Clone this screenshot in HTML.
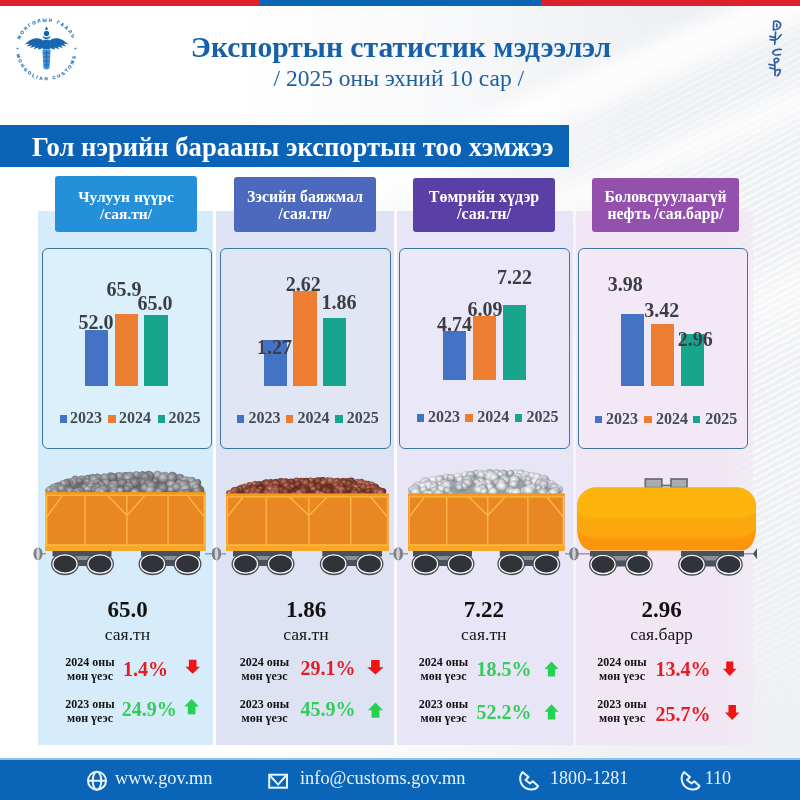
<!DOCTYPE html>
<html lang="mn">
<head>
<meta charset="utf-8">
<title>Экспортын статистик мэдээлэл</title>
<style>
html,body{margin:0;padding:0}
body{width:800px;height:800px;position:relative;overflow:hidden;font-family:"Liberation Serif","DejaVu Serif",serif;
background:
 linear-gradient(90deg, #fff 0%, #fff 30%, rgba(255,255,255,.6) 55%, rgba(255,255,255,0) 80%),
 linear-gradient(157deg, rgba(255,255,255,0) 27%, rgba(255,255,255,.85) 29%, rgba(255,255,255,.85) 30.500%, rgba(255,255,255,0) 33%, rgba(255,255,255,0) 36%, rgba(255,255,255,.7) 38.500%, rgba(255,255,255,0) 42%, rgba(255,255,255,0) 50%, rgba(255,255,255,.5) 55%, rgba(255,255,255,0) 62%),
 #eef0f3;}
.tex{position:absolute;left:440px;top:20px;width:360px;height:740px;background:repeating-linear-gradient(152deg,rgba(255,255,255,.6) 0,rgba(255,255,255,.6) 2.2px,rgba(255,255,255,0) 2.2px,rgba(255,255,255,0) 6px);-webkit-mask-image:radial-gradient(ellipse 100% 60% at 100% 42%,#000 0%,#000 30%,rgba(0,0,0,0) 100%);mask-image:radial-gradient(ellipse 100% 60% at 100% 42%,#000 0%,#000 30%,rgba(0,0,0,0) 100%)}
.t{position:absolute;line-height:1;white-space:nowrap;margin:0}
.abs{position:absolute}
.topbar{position:absolute;left:0;top:0;width:800px;height:5.5px;background:linear-gradient(90deg,#de1f2d 0,#de1f2d 260.3px,#0a65b4 260.3px,#0a65b4 540.5px,#de1f2d 540.5px)}
.band{position:absolute;left:0;top:125px;width:569px;height:42px;background:#0a63b6}
.col{position:absolute;top:211px;height:534px}
.lab{position:absolute;border-radius:3px;color:#fff;font-weight:bold;text-align:center;font-size:15.5px;line-height:16.8px}
.lab span{display:block;position:absolute;left:0;right:0;white-space:nowrap}
.chart{position:absolute;top:247.8px;height:201.4px;border:1.8px solid #3c76a3;border-radius:6px;box-sizing:border-box}
.footer{position:absolute;left:0;top:758px;width:800px;height:42px;background:#0a64b7;border-top:2px solid #8fc0ea;box-sizing:border-box}
svg{position:absolute;overflow:visible}
</style>
</head>
<body>

<div class="tex"></div>
<div class="topbar"></div>
<header>
<svg class="emblem" style="left:0;top:0" width="100" height="100" viewBox="0 0 100 100">
<defs><path id="arcT" d="M 18.1 50 A 28.4 28.4 0 0 1 74.9 50"/><path id="arcB" d="M 16.3 50 A 30.2 30.2 0 0 0 76.7 50"/></defs>
<g fill="#2573ba" font-family='"Liberation Sans",sans-serif' font-weight="bold" font-size="4.5" stroke="#2573ba" stroke-width="0.15">
<text letter-spacing="1.75"><textPath href="#arcT" startOffset="50%" text-anchor="middle">МОНГОЛЫН ГААЛЬ</textPath></text>
<text letter-spacing="2.0"><textPath href="#arcB" startOffset="50%" text-anchor="middle">MONGOLIAN CUSTOMS</textPath></text>
<circle cx="17.5" cy="48.5" r="0.8"/><circle cx="75.5" cy="48.5" r="0.8"/>
</g>
<g fill="#1766b2">
<path d="M46.5 26.2 l1.7 3.6 h-3.4z"/>
<circle cx="46.5" cy="33.5" r="2.7"/>
<path d="M42.4 35.8 q4.100 3.600 8.200 0 q-1 3.400 -4.100 3.400 q-3.100 0 -4.100 -3.400z"/>
<path d="M44.6 42 C41 37.200 33 35.800 24.600 44.600 L29.400 43.600 L26.800 46.600 L32 45.200 L30 48 L35.200 46.600 L33.800 49.200 L38.600 47.600 L38 49.800 L42.400 48.200 L44.600 46z"/>
<path d="M48.400 42 C52 37.200 60 35.800 68.400 44.600 L63.600 43.600 L66.200 46.600 L61 45.200 L63 48 L57.800 46.600 L59.200 49.200 L54.400 47.600 L55 49.800 L50.600 48.200 L48.400 46z"/>
<path d="M43.400 39.800 h6.200 l0.600 9.400 h-7.400z"/>
<path d="M42.400 49.500 h8.200 l-1.100 18.700 q-3 2.800 -6 0z" fill="#4a93d6"/>
<path d="M43 53 h7 M43.200 57 h6.600 M43.400 61 h6.200 M43.600 65 h5.800 M46.500 50 v18" stroke="#1766b2" stroke-width="0.9" fill="none"/>
</g>
</svg>
<div class="t" style="top:32.81px;font-size:29.6px;color:#1760aa;font-weight:bold;left:101.00px;width:600px;text-align:center;">Экспортын статистик мэдээлэл</div>
<div class="t" style="top:66.92px;font-size:23.5px;color:#1d5fa3;left:148.80px;width:500px;text-align:center;">/ 2025 оны эхний 10 сар /</div>
<svg class="script" style="left:760px;top:14px" width="30" height="70" viewBox="760 14 30 70"><g fill="none" stroke="#2b5fa4" stroke-width="1.7" stroke-linecap="round" stroke-linejoin="round">
<path d="M773.800 21.600 L773.400 30 M773.800 21.600 C778 20.300 781.200 22.800 780.500 25.600 C780 28.200 777 29.700 773.400 30 M776.800 24 v2.800"/>
<path d="M775.600 32 L774.700 44.300 M774.700 40.400 Q778.600 38.600 781.200 34.600 M769.900 36.400 L773.900 37.300 M770.300 39.600 L774.200 40.200"/>
<path d="M781.200 49.500 Q775.100 48.900 772.600 52.200 Q772.900 56.200 780.400 54.500"/>
<path d="M774.700 62.200 C772.300 58.700 777.700 56.800 778.700 59.600 C778.900 61.800 776 62.800 774.700 62.200 L775.100 75.400 M769 64.400 L774.500 65.500 M769.900 67.900 L774.600 69 M775 71.100 Q778.600 68.700 780.400 70.100 Q780.200 73.400 777.300 75.900"/>
</g></svg>
</header>
<div class="band"></div>
<div class="t" style="top:133.92px;font-size:26.6px;color:#fff;font-weight:bold;left:32.00px;">Гол нэрийн барааны экспортын тоо хэмжээ</div>
<div class="col" style="left:37.5px;width:175.5px;background:#d6ecfa;"></div>
<div class="col" style="left:216px;width:178px;background:#dde3f2;"></div>
<div class="col" style="left:397px;width:176px;background:#e8e6f6;"></div>
<div class="col" style="left:576px;width:177px;background:#f1e6f4;background:linear-gradient(90deg,#f1e6f4 0,#f1e6f4 80%,rgba(241,230,244,.55) 100%);"></div>
<div class="lab" style="left:55px;width:142px;top:176.3px;height:55.5px;font-size:15.5px;background:#2490d9"><span style="top:12.9px">Чулуун нүүрс</span><span style="top:29.7px">/сая.тн/</span></div>
<div class="chart" style="left:41.5px;width:170.5px;background:#dcf0fb"></div>
<div class="lab" style="left:234px;width:142px;top:177.4px;height:54.4px;font-size:15.7px;background:#4c69bd"><span style="top:11.7px">Зэсийн баяжмал</span><span style="top:28.5px">/сая.тн/</span></div>
<div class="chart" style="left:220.3px;width:170.5px;background:#e0e6f4"></div>
<div class="lab" style="left:413px;width:142px;top:178.2px;height:53.6px;font-size:16.0px;background:#5a40a6"><span style="top:10.7px">Төмрийн хүдэр</span><span style="top:27.5px">/сая.тн/</span></div>
<div class="chart" style="left:399.3px;width:170.49999999999994px;background:#eae8f7"></div>
<div class="lab" style="left:592px;width:147px;top:178px;height:53.8px;font-size:15.7px;background:#9351ad"><span style="top:11.1px">Боловсруулаагүй</span><span style="top:27.9px">нефть /сая.барр/</span></div>
<div class="chart" style="left:577.8px;width:170.20000000000005px;background:#f3e9f6"></div>
<div class="bars">
<div class="abs" style="left:85px;top:329.5px;width:23px;height:56.25px;background:#4472c4"></div>
<div class="abs" style="left:115px;top:313.75px;width:23px;height:72.0px;background:#ed7d31"></div>
<div class="abs" style="left:144px;top:315px;width:24px;height:70.75px;background:#17a68d"></div>
<div class="t" style="top:311.65px;font-size:20px;color:#3b3f45;font-weight:bold;left:56.00px;width:80px;text-align:center;">52.0</div>
<div class="t" style="top:278.65px;font-size:20px;color:#3b3f45;font-weight:bold;left:84.00px;width:80px;text-align:center;">65.9</div>
<div class="t" style="top:292.90px;font-size:20px;color:#3b3f45;font-weight:bold;left:115.00px;width:80px;text-align:center;">65.0</div>
<div class="abs" style="left:59.5px;top:415px;width:7.5px;height:7.5px;background:#4472c4"></div>
<div class="t" style="top:409.90px;font-size:16px;color:#454a50;font-weight:bold;left:70.00px;">2023</div>
<div class="abs" style="left:108px;top:415px;width:7.5px;height:7.5px;background:#ed7d31"></div>
<div class="t" style="top:409.90px;font-size:16px;color:#454a50;font-weight:bold;left:119.00px;">2024</div>
<div class="abs" style="left:157.5px;top:415px;width:7.5px;height:7.5px;background:#17a68d"></div>
<div class="t" style="top:409.90px;font-size:16px;color:#454a50;font-weight:bold;left:168.50px;">2025</div>
</div>
<div class="bars">
<div class="abs" style="left:264.25px;top:339.5px;width:22.5px;height:46.25px;background:#4472c4"></div>
<div class="abs" style="left:293px;top:291.25px;width:23.75px;height:94.5px;background:#ed7d31"></div>
<div class="abs" style="left:323px;top:318px;width:23px;height:67.75px;background:#17a68d"></div>
<div class="t" style="top:336.65px;font-size:20px;color:#3b3f45;font-weight:bold;left:234.60px;width:80px;text-align:center;">1.27</div>
<div class="t" style="top:274.15px;font-size:20px;color:#3b3f45;font-weight:bold;left:263.25px;width:80px;text-align:center;">2.62</div>
<div class="t" style="top:292.15px;font-size:20px;color:#3b3f45;font-weight:bold;left:298.90px;width:80px;text-align:center;">1.86</div>
<div class="abs" style="left:236.75px;top:415.25px;width:7.5px;height:7.5px;background:#4472c4"></div>
<div class="t" style="top:410.15px;font-size:16px;color:#454a50;font-weight:bold;left:248.50px;">2023</div>
<div class="abs" style="left:285.5px;top:415.25px;width:7.5px;height:7.5px;background:#ed7d31"></div>
<div class="t" style="top:410.15px;font-size:16px;color:#454a50;font-weight:bold;left:297.50px;">2024</div>
<div class="abs" style="left:335px;top:415.25px;width:7.5px;height:7.5px;background:#17a68d"></div>
<div class="t" style="top:410.15px;font-size:16px;color:#454a50;font-weight:bold;left:346.75px;">2025</div>
</div>
<div class="bars">
<div class="abs" style="left:443px;top:330.5px;width:23px;height:49.5px;background:#4472c4"></div>
<div class="abs" style="left:473px;top:316.25px;width:23px;height:63.75px;background:#ed7d31"></div>
<div class="abs" style="left:503px;top:305px;width:23px;height:75px;background:#17a68d"></div>
<div class="t" style="top:314.15px;font-size:20px;color:#3b3f45;font-weight:bold;left:414.50px;width:80px;text-align:center;">4.74</div>
<div class="t" style="top:298.65px;font-size:20px;color:#3b3f45;font-weight:bold;left:445.10px;width:80px;text-align:center;">6.09</div>
<div class="t" style="top:267.15px;font-size:20px;color:#3b3f45;font-weight:bold;left:474.40px;width:80px;text-align:center;">7.22</div>
<div class="abs" style="left:416.5px;top:414px;width:7.5px;height:7.5px;background:#4472c4"></div>
<div class="t" style="top:408.90px;font-size:16px;color:#454a50;font-weight:bold;left:428.00px;">2023</div>
<div class="abs" style="left:465.25px;top:414px;width:7.5px;height:7.5px;background:#ed7d31"></div>
<div class="t" style="top:408.90px;font-size:16px;color:#454a50;font-weight:bold;left:477.25px;">2024</div>
<div class="abs" style="left:514.75px;top:414px;width:7.5px;height:7.5px;background:#17a68d"></div>
<div class="t" style="top:408.90px;font-size:16px;color:#454a50;font-weight:bold;left:526.50px;">2025</div>
</div>
<div class="bars">
<div class="abs" style="left:621px;top:313.75px;width:23px;height:72.0px;background:#4472c4"></div>
<div class="abs" style="left:651px;top:323.75px;width:23px;height:62.0px;background:#ed7d31"></div>
<div class="abs" style="left:681px;top:333.75px;width:23px;height:52.0px;background:#17a68d"></div>
<div class="t" style="top:273.65px;font-size:20px;color:#3b3f45;font-weight:bold;left:585.25px;width:80px;text-align:center;">3.98</div>
<div class="t" style="top:299.65px;font-size:20px;color:#3b3f45;font-weight:bold;left:621.75px;width:80px;text-align:center;">3.42</div>
<div class="t" style="top:329.15px;font-size:20px;color:#3b3f45;font-weight:bold;left:655.25px;width:80px;text-align:center;">2.96</div>
<div class="abs" style="left:594.5px;top:415.75px;width:7.5px;height:7.5px;background:#4472c4"></div>
<div class="t" style="top:410.65px;font-size:16px;color:#454a50;font-weight:bold;left:606.00px;">2023</div>
<div class="abs" style="left:644px;top:415.75px;width:7.5px;height:7.5px;background:#ed7d31"></div>
<div class="t" style="top:410.65px;font-size:16px;color:#454a50;font-weight:bold;left:656.00px;">2024</div>
<div class="abs" style="left:692.75px;top:415.75px;width:7.5px;height:7.5px;background:#17a68d"></div>
<div class="t" style="top:410.65px;font-size:16px;color:#454a50;font-weight:bold;left:705.25px;">2025</div>
</div>
<svg class="train" style="left:0;top:0" width="800" height="800" viewBox="0 0 800 800">
<defs><radialGradient id="gc0" cx="45%" cy="40%" r="62%"><stop offset="0" stop-color="#bcbdc0"/><stop offset=".55" stop-color="#8b8c8f"/><stop offset="1" stop-color="#5e5f62"/></radialGradient><radialGradient id="gc1" cx="45%" cy="40%" r="62%"><stop offset="0" stop-color="#a8a9ac"/><stop offset=".55" stop-color="#7a7b7e"/><stop offset="1" stop-color="#525356"/></radialGradient><radialGradient id="gc2" cx="45%" cy="40%" r="62%"><stop offset="0" stop-color="#cacbce"/><stop offset=".55" stop-color="#96979a"/><stop offset="1" stop-color="#666769"/></radialGradient><radialGradient id="gk0" cx="45%" cy="40%" r="62%"><stop offset="0" stop-color="#bf7a68"/><stop offset=".55" stop-color="#8d4838"/><stop offset="1" stop-color="#55261c"/></radialGradient><radialGradient id="gk1" cx="45%" cy="40%" r="62%"><stop offset="0" stop-color="#a9604f"/><stop offset=".55" stop-color="#7a3b2d"/><stop offset="1" stop-color="#4a1f17"/></radialGradient><radialGradient id="gk2" cx="45%" cy="40%" r="62%"><stop offset="0" stop-color="#cf8c7a"/><stop offset=".55" stop-color="#9c5544"/><stop offset="1" stop-color="#63301f"/></radialGradient><radialGradient id="gs0" cx="45%" cy="40%" r="62%"><stop offset="0" stop-color="#ffffff"/><stop offset=".55" stop-color="#c3c7cc"/><stop offset="1" stop-color="#7e848c"/></radialGradient><radialGradient id="gs1" cx="45%" cy="40%" r="62%"><stop offset="0" stop-color="#f4f5f7"/><stop offset=".55" stop-color="#b1b5bb"/><stop offset="1" stop-color="#727880"/></radialGradient><radialGradient id="gs2" cx="45%" cy="40%" r="62%"><stop offset="0" stop-color="#ffffff"/><stop offset=".55" stop-color="#d2d5d9"/><stop offset="1" stop-color="#8d9299"/></radialGradient></defs>
<line x1="38" y1="553.8" x2="46" y2="553.8" stroke="#9aa0a8" stroke-width="1.6"/><ellipse cx="38" cy="553.8" rx="4.6" ry="6.4" fill="#7b8087"/><ellipse cx="38" cy="553.8" rx="1.8" ry="6.2" fill="#cfd2d6"/>
<line x1="216.5" y1="553.8" x2="205" y2="553.8" stroke="#9aa0a8" stroke-width="1.6"/><ellipse cx="216.5" cy="553.8" rx="4.6" ry="6.4" fill="#7b8087"/><ellipse cx="216.5" cy="553.8" rx="1.8" ry="6.2" fill="#cfd2d6"/>
<line x1="216.5" y1="553.8" x2="226" y2="553.8" stroke="#9aa0a8" stroke-width="1.6"/><ellipse cx="216.5" cy="553.8" rx="4.6" ry="6.4" fill="#7b8087"/><ellipse cx="216.5" cy="553.8" rx="1.8" ry="6.2" fill="#cfd2d6"/>
<line x1="398.5" y1="553.8" x2="389" y2="553.8" stroke="#9aa0a8" stroke-width="1.6"/><ellipse cx="398.5" cy="553.8" rx="4.6" ry="6.4" fill="#7b8087"/><ellipse cx="398.5" cy="553.8" rx="1.8" ry="6.2" fill="#cfd2d6"/>
<line x1="398" y1="553.8" x2="408" y2="553.8" stroke="#9aa0a8" stroke-width="1.6"/><ellipse cx="398" cy="553.8" rx="4.6" ry="6.4" fill="#7b8087"/><ellipse cx="398" cy="553.8" rx="1.8" ry="6.2" fill="#cfd2d6"/>
<line x1="574" y1="553.8" x2="565" y2="553.8" stroke="#9aa0a8" stroke-width="1.6"/><ellipse cx="574" cy="553.8" rx="4.6" ry="6.4" fill="#7b8087"/><ellipse cx="574" cy="553.8" rx="1.8" ry="6.2" fill="#cfd2d6"/>
<line x1="574" y1="553.8" x2="590" y2="553.8" stroke="#9aa0a8" stroke-width="1.6"/><ellipse cx="574" cy="553.8" rx="4.6" ry="6.4" fill="#7b8087"/><ellipse cx="574" cy="553.8" rx="1.8" ry="6.2" fill="#cfd2d6"/>
<line x1="744" y1="553.8" x2="754" y2="553.8" stroke="#9aa0a8" stroke-width="1.6"/><path d="M753 553.8 l4 -5.500 v11z" fill="#4b515a"/>
<path d="M46.5 494 L46.5 494.0 L50.0 488.0 L62.5 483.0 L75.0 478.5 L107.5 475.5 L150.0 473.5 L175.0 475.5 L197.5 481.8 L204.0 488.0 L205.0 495.0 L205 494Z" fill="#6b6c6f"/><ellipse cx="136.6" cy="474.8" rx="4.1" ry="3.5" fill="url(#gc0)" transform="rotate(6 136.6 474.8)"/><ellipse cx="157.6" cy="475.1" rx="4.8" ry="4.3" fill="url(#gc2)" transform="rotate(3 157.6 475.1)"/><ellipse cx="142.4" cy="475.3" rx="3.6" ry="3.1" fill="url(#gc2)" transform="rotate(11 142.4 475.3)"/><ellipse cx="142.4" cy="475.4" rx="4.6" ry="4.3" fill="url(#gc1)" transform="rotate(-21 142.4 475.4)"/><ellipse cx="130.2" cy="475.5" rx="4.7" ry="3.7" fill="url(#gc0)" transform="rotate(17 130.2 475.5)"/><ellipse cx="125.3" cy="475.6" rx="3.7" ry="3.5" fill="url(#gc1)" transform="rotate(3 125.3 475.6)"/><ellipse cx="149.0" cy="475.7" rx="5.4" ry="4.8" fill="url(#gc1)" transform="rotate(24 149.0 475.7)"/><ellipse cx="128.9" cy="476.2" rx="4.5" ry="3.6" fill="url(#gc0)" transform="rotate(18 128.9 476.2)"/><ellipse cx="119.1" cy="476.3" rx="5.3" ry="4.3" fill="url(#gc0)" transform="rotate(2 119.1 476.3)"/><ellipse cx="172.6" cy="476.5" rx="4.9" ry="4.6" fill="url(#gc1)" transform="rotate(24 172.6 476.5)"/><ellipse cx="143.2" cy="476.6" rx="4.7" ry="4.1" fill="url(#gc2)" transform="rotate(19 143.2 476.6)"/><ellipse cx="111.1" cy="476.9" rx="5.1" ry="4.6" fill="url(#gc1)" transform="rotate(24 111.1 476.9)"/><ellipse cx="145.1" cy="476.9" rx="5.3" ry="4.6" fill="url(#gc1)" transform="rotate(7 145.1 476.9)"/><ellipse cx="165.0" cy="477.0" rx="5.5" ry="5.2" fill="url(#gc2)" transform="rotate(26 165.0 477.0)"/><ellipse cx="92.0" cy="477.1" rx="3.9" ry="3.3" fill="url(#gc0)" transform="rotate(-13 92.0 477.1)"/><ellipse cx="113.0" cy="477.2" rx="4.6" ry="4.2" fill="url(#gc1)" transform="rotate(-18 113.0 477.2)"/><ellipse cx="171.8" cy="477.5" rx="5.2" ry="4.5" fill="url(#gc0)" transform="rotate(-15 171.8 477.5)"/><ellipse cx="98.1" cy="477.6" rx="4.3" ry="3.7" fill="url(#gc1)" transform="rotate(25 98.1 477.6)"/><ellipse cx="104.7" cy="477.6" rx="4.9" ry="4.2" fill="url(#gc0)" transform="rotate(14 104.7 477.6)"/><ellipse cx="87.4" cy="477.8" rx="3.4" ry="3.0" fill="url(#gc1)" transform="rotate(-17 87.4 477.8)"/><ellipse cx="180.1" cy="477.9" rx="4.6" ry="4.0" fill="url(#gc1)" transform="rotate(27 180.1 477.9)"/><ellipse cx="163.2" cy="478.0" rx="5.4" ry="4.8" fill="url(#gc2)" transform="rotate(0 163.2 478.0)"/><ellipse cx="127.5" cy="478.3" rx="4.9" ry="3.9" fill="url(#gc2)" transform="rotate(30 127.5 478.3)"/><ellipse cx="75.5" cy="478.9" rx="3.6" ry="3.3" fill="url(#gc1)" transform="rotate(26 75.5 478.9)"/><ellipse cx="81.0" cy="479.3" rx="4.5" ry="3.8" fill="url(#gc0)" transform="rotate(-16 81.0 479.3)"/><ellipse cx="93.7" cy="479.6" rx="5.1" ry="4.6" fill="url(#gc0)" transform="rotate(19 93.7 479.6)"/><ellipse cx="185.3" cy="480.6" rx="5.2" ry="4.2" fill="url(#gc2)" transform="rotate(-17 185.3 480.6)"/><ellipse cx="155.6" cy="480.7" rx="3.4" ry="2.8" fill="url(#gc1)" transform="rotate(-18 155.6 480.7)"/><ellipse cx="79.3" cy="480.9" rx="4.0" ry="3.2" fill="url(#gc1)" transform="rotate(9 79.3 480.9)"/><ellipse cx="191.3" cy="481.6" rx="5.1" ry="4.6" fill="url(#gc2)" transform="rotate(-28 191.3 481.6)"/><ellipse cx="128.6" cy="481.7" rx="3.9" ry="3.1" fill="url(#gc1)" transform="rotate(-28 128.6 481.7)"/><ellipse cx="139.7" cy="481.9" rx="4.0" ry="3.2" fill="url(#gc1)" transform="rotate(-25 139.7 481.9)"/><ellipse cx="147.9" cy="482.0" rx="4.6" ry="4.2" fill="url(#gc2)" transform="rotate(-23 147.9 482.0)"/><ellipse cx="86.9" cy="482.0" rx="3.6" ry="3.0" fill="url(#gc0)" transform="rotate(28 86.9 482.0)"/><ellipse cx="147.1" cy="482.1" rx="5.1" ry="4.0" fill="url(#gc1)" transform="rotate(-2 147.1 482.1)"/><ellipse cx="72.1" cy="482.2" rx="5.1" ry="4.6" fill="url(#gc2)" transform="rotate(-9 72.1 482.2)"/><ellipse cx="68.1" cy="482.6" rx="5.2" ry="4.1" fill="url(#gc0)" transform="rotate(-9 68.1 482.6)"/><ellipse cx="197.3" cy="482.6" rx="3.9" ry="3.3" fill="url(#gc1)" transform="rotate(-26 197.3 482.6)"/><ellipse cx="105.8" cy="482.8" rx="4.2" ry="3.7" fill="url(#gc0)" transform="rotate(17 105.8 482.8)"/><ellipse cx="141.5" cy="482.8" rx="5.1" ry="4.3" fill="url(#gc1)" transform="rotate(4 141.5 482.8)"/><ellipse cx="122.3" cy="482.9" rx="5.1" ry="4.1" fill="url(#gc1)" transform="rotate(-13 122.3 482.9)"/><ellipse cx="179.3" cy="482.9" rx="3.6" ry="3.2" fill="url(#gc0)" transform="rotate(-23 179.3 482.9)"/><ellipse cx="134.1" cy="482.9" rx="4.9" ry="4.6" fill="url(#gc1)" transform="rotate(28 134.1 482.9)"/><ellipse cx="143.2" cy="483.0" rx="5.0" ry="4.0" fill="url(#gc1)" transform="rotate(30 143.2 483.0)"/><ellipse cx="98.0" cy="483.2" rx="4.0" ry="3.3" fill="url(#gc2)" transform="rotate(19 98.0 483.2)"/><ellipse cx="66.0" cy="483.4" rx="4.6" ry="4.2" fill="url(#gc1)" transform="rotate(-12 66.0 483.4)"/><ellipse cx="63.1" cy="483.8" rx="3.8" ry="3.4" fill="url(#gc2)" transform="rotate(11 63.1 483.8)"/><ellipse cx="148.4" cy="484.1" rx="5.3" ry="4.2" fill="url(#gc1)" transform="rotate(30 148.4 484.1)"/><ellipse cx="185.6" cy="484.1" rx="5.1" ry="4.6" fill="url(#gc1)" transform="rotate(4 185.6 484.1)"/><ellipse cx="171.1" cy="484.3" rx="4.7" ry="3.8" fill="url(#gc2)" transform="rotate(1 171.1 484.3)"/><ellipse cx="91.3" cy="484.7" rx="4.0" ry="3.4" fill="url(#gc2)" transform="rotate(15 91.3 484.7)"/><ellipse cx="59.1" cy="484.8" rx="3.2" ry="2.9" fill="url(#gc1)" transform="rotate(6 59.1 484.8)"/><ellipse cx="113.4" cy="484.8" rx="3.4" ry="2.8" fill="url(#gc2)" transform="rotate(11 113.4 484.8)"/><ellipse cx="113.8" cy="484.9" rx="4.9" ry="4.3" fill="url(#gc2)" transform="rotate(-19 113.8 484.9)"/><ellipse cx="86.4" cy="485.0" rx="3.6" ry="3.4" fill="url(#gc1)" transform="rotate(11 86.4 485.0)"/><ellipse cx="100.7" cy="485.2" rx="5.2" ry="4.2" fill="url(#gc1)" transform="rotate(29 100.7 485.2)"/><ellipse cx="182.9" cy="485.3" rx="5.4" ry="4.4" fill="url(#gc2)" transform="rotate(-9 182.9 485.3)"/><ellipse cx="193.5" cy="485.5" rx="5.4" ry="4.9" fill="url(#gc2)" transform="rotate(8 193.5 485.5)"/><ellipse cx="179.1" cy="485.6" rx="3.4" ry="3.0" fill="url(#gc1)" transform="rotate(11 179.1 485.6)"/><ellipse cx="151.0" cy="485.9" rx="5.0" ry="4.3" fill="url(#gc0)" transform="rotate(-11 151.0 485.9)"/><ellipse cx="185.4" cy="486.2" rx="4.1" ry="3.7" fill="url(#gc0)" transform="rotate(-24 185.4 486.2)"/><ellipse cx="182.9" cy="486.2" rx="5.6" ry="4.5" fill="url(#gc2)" transform="rotate(5 182.9 486.2)"/><ellipse cx="91.3" cy="486.4" rx="3.8" ry="3.4" fill="url(#gc2)" transform="rotate(-5 91.3 486.4)"/><ellipse cx="84.4" cy="486.5" rx="3.5" ry="2.8" fill="url(#gc1)" transform="rotate(-13 84.4 486.5)"/><ellipse cx="95.6" cy="486.6" rx="4.8" ry="3.8" fill="url(#gc1)" transform="rotate(-22 95.6 486.6)"/><ellipse cx="128.8" cy="486.8" rx="4.7" ry="4.1" fill="url(#gc0)" transform="rotate(-13 128.8 486.8)"/><ellipse cx="97.1" cy="487.1" rx="3.4" ry="3.0" fill="url(#gc0)" transform="rotate(2 97.1 487.1)"/><ellipse cx="57.2" cy="487.1" rx="4.7" ry="4.3" fill="url(#gc1)" transform="rotate(30 57.2 487.1)"/><ellipse cx="97.6" cy="487.3" rx="4.1" ry="3.5" fill="url(#gc1)" transform="rotate(21 97.6 487.3)"/><ellipse cx="84.7" cy="487.4" rx="3.4" ry="2.8" fill="url(#gc0)" transform="rotate(24 84.7 487.4)"/><ellipse cx="176.3" cy="487.4" rx="5.5" ry="4.4" fill="url(#gc0)" transform="rotate(7 176.3 487.4)"/><ellipse cx="62.5" cy="487.5" rx="3.6" ry="3.3" fill="url(#gc0)" transform="rotate(6 62.5 487.5)"/><ellipse cx="195.5" cy="487.5" rx="3.8" ry="3.0" fill="url(#gc2)" transform="rotate(14 195.5 487.5)"/><ellipse cx="112.8" cy="487.7" rx="5.5" ry="4.8" fill="url(#gc0)" transform="rotate(12 112.8 487.7)"/><ellipse cx="53.8" cy="487.8" rx="4.6" ry="3.9" fill="url(#gc2)" transform="rotate(17 53.8 487.8)"/><ellipse cx="144.9" cy="487.9" rx="4.3" ry="3.8" fill="url(#gc0)" transform="rotate(-21 144.9 487.9)"/><ellipse cx="162.7" cy="488.2" rx="5.2" ry="4.8" fill="url(#gc1)" transform="rotate(4 162.7 488.2)"/><ellipse cx="185.4" cy="488.4" rx="5.4" ry="4.3" fill="url(#gc2)" transform="rotate(-19 185.4 488.4)"/><ellipse cx="61.3" cy="488.7" rx="4.2" ry="3.9" fill="url(#gc0)" transform="rotate(-7 61.3 488.7)"/><ellipse cx="50.8" cy="488.8" rx="3.3" ry="2.6" fill="url(#gc1)" transform="rotate(21 50.8 488.8)"/><ellipse cx="126.8" cy="488.9" rx="4.2" ry="3.9" fill="url(#gc1)" transform="rotate(30 126.8 488.9)"/><ellipse cx="106.5" cy="488.9" rx="4.4" ry="3.7" fill="url(#gc1)" transform="rotate(27 106.5 488.9)"/><ellipse cx="87.4" cy="489.4" rx="4.5" ry="3.7" fill="url(#gc2)" transform="rotate(1 87.4 489.4)"/><ellipse cx="55.2" cy="489.6" rx="3.7" ry="3.3" fill="url(#gc2)" transform="rotate(-11 55.2 489.6)"/><ellipse cx="170.7" cy="489.7" rx="3.3" ry="2.8" fill="url(#gc2)" transform="rotate(8 170.7 489.7)"/><ellipse cx="103.6" cy="489.7" rx="4.9" ry="4.4" fill="url(#gc0)" transform="rotate(-30 103.6 489.7)"/><ellipse cx="52.5" cy="489.9" rx="5.0" ry="4.5" fill="url(#gc0)" transform="rotate(12 52.5 489.9)"/><ellipse cx="114.2" cy="490.1" rx="4.3" ry="3.7" fill="url(#gc0)" transform="rotate(3 114.2 490.1)"/><ellipse cx="150.2" cy="490.2" rx="5.3" ry="4.6" fill="url(#gc2)" transform="rotate(-18 150.2 490.2)"/><ellipse cx="49.0" cy="490.3" rx="3.8" ry="3.1" fill="url(#gc2)" transform="rotate(22 49.0 490.3)"/><ellipse cx="95.7" cy="490.3" rx="4.1" ry="3.8" fill="url(#gc2)" transform="rotate(30 95.7 490.3)"/><ellipse cx="68.8" cy="490.4" rx="5.2" ry="4.2" fill="url(#gc1)" transform="rotate(-12 68.8 490.4)"/><ellipse cx="120.4" cy="490.5" rx="3.5" ry="3.3" fill="url(#gc2)" transform="rotate(-22 120.4 490.5)"/><ellipse cx="97.2" cy="490.7" rx="3.7" ry="3.4" fill="url(#gc1)" transform="rotate(9 97.2 490.7)"/><ellipse cx="78.1" cy="491.1" rx="3.9" ry="3.0" fill="url(#gc0)" transform="rotate(9 78.1 491.1)"/><ellipse cx="196.9" cy="491.2" rx="4.2" ry="3.6" fill="url(#gc0)" transform="rotate(1 196.9 491.2)"/><ellipse cx="99.3" cy="491.2" rx="4.6" ry="3.6" fill="url(#gc2)" transform="rotate(-9 99.3 491.2)"/><ellipse cx="80.2" cy="491.3" rx="4.5" ry="3.7" fill="url(#gc1)" transform="rotate(-8 80.2 491.3)"/><ellipse cx="70.0" cy="491.4" rx="3.9" ry="3.5" fill="url(#gc2)" transform="rotate(-25 70.0 491.4)"/><ellipse cx="77.5" cy="491.5" rx="3.3" ry="3.0" fill="url(#gc2)" transform="rotate(-28 77.5 491.5)"/><ellipse cx="101.9" cy="491.6" rx="3.8" ry="3.0" fill="url(#gc2)" transform="rotate(-9 101.9 491.6)"/><ellipse cx="53.8" cy="491.7" rx="3.3" ry="3.1" fill="url(#gc0)" transform="rotate(25 53.8 491.7)"/><ellipse cx="158.6" cy="491.8" rx="4.0" ry="3.4" fill="url(#gc0)" transform="rotate(18 158.6 491.8)"/><ellipse cx="79.2" cy="491.8" rx="5.1" ry="4.4" fill="url(#gc0)" transform="rotate(-24 79.2 491.8)"/><ellipse cx="54.6" cy="492.3" rx="4.6" ry="3.9" fill="url(#gc0)" transform="rotate(24 54.6 492.3)"/><ellipse cx="113.7" cy="492.6" rx="4.2" ry="3.8" fill="url(#gc0)" transform="rotate(-5 113.7 492.6)"/><ellipse cx="64.3" cy="492.7" rx="3.4" ry="3.0" fill="url(#gc1)" transform="rotate(-26 64.3 492.7)"/><ellipse cx="134.7" cy="492.9" rx="4.7" ry="4.3" fill="url(#gc2)" transform="rotate(-17 134.7 492.9)"/><ellipse cx="76.3" cy="492.9" rx="5.1" ry="4.4" fill="url(#gc2)" transform="rotate(-29 76.3 492.9)"/><ellipse cx="186.5" cy="493.0" rx="4.9" ry="4.2" fill="url(#gc1)" transform="rotate(14 186.5 493.0)"/><ellipse cx="74.0" cy="493.2" rx="3.2" ry="2.7" fill="url(#gc1)" transform="rotate(-1 74.0 493.2)"/><ellipse cx="181.1" cy="493.3" rx="4.0" ry="3.6" fill="url(#gc0)" transform="rotate(-7 181.1 493.3)"/><ellipse cx="86.3" cy="493.7" rx="3.9" ry="3.4" fill="url(#gc1)" transform="rotate(-7 86.3 493.7)"/><ellipse cx="69.3" cy="493.7" rx="3.4" ry="2.9" fill="url(#gc2)" transform="rotate(-30 69.3 493.7)"/><ellipse cx="198.1" cy="494.0" rx="4.4" ry="3.6" fill="url(#gc0)" transform="rotate(-7 198.1 494.0)"/><rect x="45.5" y="492.2" width="160.0" height="58.5" fill="#e98822"/><rect x="45.5" y="492.2" width="160.0" height="3.2" fill="#f59a1c"/><rect x="45.5" y="545" width="160.0" height="5.7" fill="#f8a722"/><path d="M46.7 495.4 V545 M204.3 495.4 V545 M45.5 495.4 H205.5 M45.5 545 H205.5 M85.0 495.4 V545 M126.9 495.4 V545 M168.1 495.4 V545 M62.5 495.4 L46.7 517 M187.4 495.4 L204.3 517 M107.6 495.4 L126.9 515.5 L145.0 495.4 " fill="none" stroke="#fcb940" stroke-width="1.35"/><rect x="52.5" y="551" width="59.0" height="5.5" fill="#4b515a"/><path d="M65 556 H100 V566 H65Z" fill="#4b515a"/><path d="M54.5 556 L59 560 H106 L109.5 556Z" fill="#8a9099"/><ellipse cx="65" cy="564" rx="13.3" ry="10.5" fill="#fff" stroke="#474c53" stroke-width="1.3"/><ellipse cx="65" cy="564" rx="11.4" ry="8.5" fill="#303338"/><ellipse cx="100" cy="564" rx="13.3" ry="10.5" fill="#fff" stroke="#474c53" stroke-width="1.3"/><ellipse cx="100" cy="564" rx="11.4" ry="8.5" fill="#303338"/><rect x="141.0" y="551" width="59.0" height="5.5" fill="#4b515a"/><path d="M152.5 556 H187.5 V566 H152.5Z" fill="#4b515a"/><path d="M143.0 556 L146.5 560 H193.5 L198.0 556Z" fill="#8a9099"/><ellipse cx="152.5" cy="564" rx="13.3" ry="10.5" fill="#fff" stroke="#474c53" stroke-width="1.3"/><ellipse cx="152.5" cy="564" rx="11.4" ry="8.5" fill="#303338"/><ellipse cx="187.5" cy="564" rx="13.3" ry="10.5" fill="#fff" stroke="#474c53" stroke-width="1.3"/><ellipse cx="187.5" cy="564" rx="11.4" ry="8.5" fill="#303338"/>
<path d="M227 495 L227.0 494.0 L237.5 488.0 L255.0 484.0 L280.0 481.0 L317.5 480.0 L355.0 481.0 L375.0 485.5 L385.5 493.0 L386.0 496.0 L386 495Z" fill="#6a3024"/><ellipse cx="327.7" cy="479.3" rx="2.4" ry="1.9" fill="url(#gk2)" transform="rotate(16 327.7 479.3)"/><ellipse cx="300.0" cy="479.8" rx="2.5" ry="2.0" fill="url(#gk1)" transform="rotate(-21 300.0 479.8)"/><ellipse cx="303.6" cy="480.0" rx="2.4" ry="2.2" fill="url(#gk1)" transform="rotate(-16 303.6 480.0)"/><ellipse cx="315.1" cy="480.1" rx="2.5" ry="2.0" fill="url(#gk2)" transform="rotate(28 315.1 480.1)"/><ellipse cx="310.7" cy="480.1" rx="3.0" ry="2.6" fill="url(#gk2)" transform="rotate(-17 310.7 480.1)"/><ellipse cx="296.4" cy="480.2" rx="3.1" ry="2.8" fill="url(#gk0)" transform="rotate(-6 296.4 480.2)"/><ellipse cx="306.6" cy="480.5" rx="3.0" ry="2.8" fill="url(#gk1)" transform="rotate(-12 306.6 480.5)"/><ellipse cx="347.0" cy="480.6" rx="2.6" ry="2.5" fill="url(#gk1)" transform="rotate(15 347.0 480.6)"/><ellipse cx="322.2" cy="480.7" rx="4.0" ry="3.6" fill="url(#gk1)" transform="rotate(-6 322.2 480.7)"/><ellipse cx="342.4" cy="480.7" rx="3.1" ry="2.8" fill="url(#gk0)" transform="rotate(-8 342.4 480.7)"/><ellipse cx="357.4" cy="480.9" rx="2.6" ry="2.1" fill="url(#gk2)" transform="rotate(10 357.4 480.9)"/><ellipse cx="317.9" cy="481.0" rx="3.9" ry="3.7" fill="url(#gk1)" transform="rotate(-7 317.9 481.0)"/><ellipse cx="330.6" cy="481.0" rx="4.3" ry="3.4" fill="url(#gk2)" transform="rotate(6 330.6 481.0)"/><ellipse cx="286.9" cy="481.0" rx="2.8" ry="2.5" fill="url(#gk0)" transform="rotate(-5 286.9 481.0)"/><ellipse cx="302.2" cy="481.1" rx="2.9" ry="2.3" fill="url(#gk0)" transform="rotate(-28 302.2 481.1)"/><ellipse cx="288.3" cy="481.2" rx="2.5" ry="2.1" fill="url(#gk0)" transform="rotate(-28 288.3 481.2)"/><ellipse cx="350.9" cy="481.2" rx="4.1" ry="3.8" fill="url(#gk1)" transform="rotate(0 350.9 481.2)"/><ellipse cx="325.0" cy="481.3" rx="2.5" ry="2.3" fill="url(#gk2)" transform="rotate(-30 325.0 481.3)"/><ellipse cx="306.4" cy="481.7" rx="3.1" ry="2.6" fill="url(#gk1)" transform="rotate(26 306.4 481.7)"/><ellipse cx="334.6" cy="481.7" rx="3.7" ry="3.4" fill="url(#gk2)" transform="rotate(-10 334.6 481.7)"/><ellipse cx="343.5" cy="481.8" rx="3.6" ry="3.1" fill="url(#gk1)" transform="rotate(-18 343.5 481.8)"/><ellipse cx="337.0" cy="481.9" rx="4.3" ry="3.8" fill="url(#gk0)" transform="rotate(-26 337.0 481.9)"/><ellipse cx="280.7" cy="482.0" rx="4.3" ry="4.0" fill="url(#gk1)" transform="rotate(25 280.7 482.0)"/><ellipse cx="290.9" cy="482.1" rx="4.3" ry="3.5" fill="url(#gk1)" transform="rotate(-14 290.9 482.1)"/><ellipse cx="284.0" cy="482.1" rx="4.2" ry="3.5" fill="url(#gk0)" transform="rotate(-20 284.0 482.1)"/><ellipse cx="339.8" cy="482.4" rx="2.5" ry="2.2" fill="url(#gk1)" transform="rotate(-28 339.8 482.4)"/><ellipse cx="266.2" cy="482.7" rx="3.6" ry="3.4" fill="url(#gk1)" transform="rotate(-8 266.2 482.7)"/><ellipse cx="270.2" cy="482.7" rx="4.1" ry="3.5" fill="url(#gk1)" transform="rotate(-27 270.2 482.7)"/><ellipse cx="323.2" cy="482.7" rx="3.2" ry="2.5" fill="url(#gk2)" transform="rotate(-1 323.2 482.7)"/><ellipse cx="275.2" cy="482.9" rx="4.4" ry="4.0" fill="url(#gk1)" transform="rotate(-21 275.2 482.9)"/><ellipse cx="344.3" cy="483.0" rx="3.4" ry="3.1" fill="url(#gk0)" transform="rotate(-10 344.3 483.0)"/><ellipse cx="263.0" cy="483.0" rx="2.7" ry="2.3" fill="url(#gk1)" transform="rotate(-15 263.0 483.0)"/><ellipse cx="361.0" cy="483.1" rx="4.2" ry="4.0" fill="url(#gk2)" transform="rotate(-28 361.0 483.1)"/><ellipse cx="305.5" cy="483.2" rx="4.1" ry="3.7" fill="url(#gk0)" transform="rotate(6 305.5 483.2)"/><ellipse cx="266.9" cy="483.8" rx="4.2" ry="3.8" fill="url(#gk0)" transform="rotate(9 266.9 483.8)"/><ellipse cx="353.6" cy="483.8" rx="2.5" ry="2.4" fill="url(#gk1)" transform="rotate(15 353.6 483.8)"/><ellipse cx="258.7" cy="483.8" rx="3.0" ry="2.7" fill="url(#gk1)" transform="rotate(-19 258.7 483.8)"/><ellipse cx="348.9" cy="483.9" rx="4.2" ry="3.6" fill="url(#gk1)" transform="rotate(-26 348.9 483.9)"/><ellipse cx="365.1" cy="483.9" rx="3.5" ry="3.3" fill="url(#gk2)" transform="rotate(-1 365.1 483.9)"/><ellipse cx="367.7" cy="484.0" rx="3.5" ry="3.2" fill="url(#gk0)" transform="rotate(-19 367.7 484.0)"/><ellipse cx="254.4" cy="484.0" rx="3.5" ry="2.9" fill="url(#gk2)" transform="rotate(-28 254.4 484.0)"/><ellipse cx="372.0" cy="484.1" rx="2.8" ry="2.4" fill="url(#gk2)" transform="rotate(16 372.0 484.1)"/><ellipse cx="287.8" cy="484.2" rx="3.3" ry="2.5" fill="url(#gk1)" transform="rotate(-27 287.8 484.2)"/><ellipse cx="297.6" cy="484.2" rx="3.7" ry="3.4" fill="url(#gk1)" transform="rotate(-4 297.6 484.2)"/><ellipse cx="311.6" cy="484.6" rx="3.1" ry="2.4" fill="url(#gk0)" transform="rotate(5 311.6 484.6)"/><ellipse cx="275.2" cy="484.6" rx="4.2" ry="3.7" fill="url(#gk2)" transform="rotate(30 275.2 484.6)"/><ellipse cx="335.9" cy="484.8" rx="3.3" ry="2.9" fill="url(#gk0)" transform="rotate(-15 335.9 484.8)"/><ellipse cx="341.2" cy="485.1" rx="3.4" ry="2.7" fill="url(#gk1)" transform="rotate(0 341.2 485.1)"/><ellipse cx="249.8" cy="485.1" rx="3.3" ry="3.0" fill="url(#gk0)" transform="rotate(11 249.8 485.1)"/><ellipse cx="285.9" cy="485.4" rx="3.8" ry="3.3" fill="url(#gk0)" transform="rotate(20 285.9 485.4)"/><ellipse cx="311.0" cy="485.7" rx="3.3" ry="2.6" fill="url(#gk0)" transform="rotate(23 311.0 485.7)"/><ellipse cx="359.6" cy="485.7" rx="2.8" ry="2.4" fill="url(#gk1)" transform="rotate(10 359.6 485.7)"/><ellipse cx="270.8" cy="485.8" rx="3.5" ry="3.3" fill="url(#gk0)" transform="rotate(30 270.8 485.8)"/><ellipse cx="292.0" cy="485.9" rx="2.7" ry="2.2" fill="url(#gk0)" transform="rotate(2 292.0 485.9)"/><ellipse cx="241.6" cy="486.5" rx="2.5" ry="2.1" fill="url(#gk2)" transform="rotate(4 241.6 486.5)"/><ellipse cx="292.2" cy="486.5" rx="3.0" ry="2.3" fill="url(#gk0)" transform="rotate(-10 292.2 486.5)"/><ellipse cx="353.8" cy="486.6" rx="3.7" ry="2.9" fill="url(#gk0)" transform="rotate(28 353.8 486.6)"/><ellipse cx="375.3" cy="486.7" rx="3.8" ry="3.3" fill="url(#gk0)" transform="rotate(24 375.3 486.7)"/><ellipse cx="251.2" cy="486.7" rx="3.0" ry="2.5" fill="url(#gk2)" transform="rotate(-29 251.2 486.7)"/><ellipse cx="318.7" cy="486.8" rx="3.7" ry="3.3" fill="url(#gk1)" transform="rotate(1 318.7 486.8)"/><ellipse cx="350.0" cy="486.8" rx="2.6" ry="2.3" fill="url(#gk1)" transform="rotate(-6 350.0 486.8)"/><ellipse cx="245.5" cy="487.0" rx="3.7" ry="3.3" fill="url(#gk2)" transform="rotate(16 245.5 487.0)"/><ellipse cx="363.4" cy="487.1" rx="3.4" ry="3.1" fill="url(#gk0)" transform="rotate(-11 363.4 487.1)"/><ellipse cx="355.8" cy="487.2" rx="3.3" ry="2.8" fill="url(#gk2)" transform="rotate(22 355.8 487.2)"/><ellipse cx="305.3" cy="487.3" rx="3.0" ry="2.6" fill="url(#gk0)" transform="rotate(-22 305.3 487.3)"/><ellipse cx="374.8" cy="487.5" rx="3.8" ry="3.3" fill="url(#gk1)" transform="rotate(19 374.8 487.5)"/><ellipse cx="275.0" cy="487.5" rx="4.3" ry="4.0" fill="url(#gk1)" transform="rotate(-10 275.0 487.5)"/><ellipse cx="337.9" cy="487.9" rx="3.7" ry="2.9" fill="url(#gk0)" transform="rotate(-25 337.9 487.9)"/><ellipse cx="303.2" cy="487.9" rx="3.5" ry="2.9" fill="url(#gk1)" transform="rotate(-25 303.2 487.9)"/><ellipse cx="318.7" cy="488.0" rx="2.4" ry="2.3" fill="url(#gk1)" transform="rotate(12 318.7 488.0)"/><ellipse cx="249.8" cy="488.0" rx="3.6" ry="3.0" fill="url(#gk0)" transform="rotate(1 249.8 488.0)"/><ellipse cx="243.9" cy="488.0" rx="3.7" ry="3.1" fill="url(#gk2)" transform="rotate(15 243.9 488.0)"/><ellipse cx="372.2" cy="488.1" rx="4.0" ry="3.6" fill="url(#gk0)" transform="rotate(26 372.2 488.1)"/><ellipse cx="251.3" cy="488.2" rx="3.3" ry="3.0" fill="url(#gk1)" transform="rotate(-26 251.3 488.2)"/><ellipse cx="253.5" cy="488.2" rx="4.1" ry="3.7" fill="url(#gk1)" transform="rotate(-6 253.5 488.2)"/><ellipse cx="275.3" cy="488.3" rx="3.6" ry="2.8" fill="url(#gk2)" transform="rotate(-12 275.3 488.3)"/><ellipse cx="368.7" cy="488.5" rx="3.2" ry="3.0" fill="url(#gk2)" transform="rotate(-22 368.7 488.5)"/><ellipse cx="260.2" cy="488.5" rx="2.5" ry="1.9" fill="url(#gk2)" transform="rotate(-21 260.2 488.5)"/><ellipse cx="268.9" cy="488.6" rx="3.7" ry="3.3" fill="url(#gk2)" transform="rotate(-29 268.9 488.6)"/><ellipse cx="313.3" cy="488.8" rx="3.1" ry="2.4" fill="url(#gk2)" transform="rotate(-3 313.3 488.8)"/><ellipse cx="379.7" cy="488.9" rx="2.5" ry="2.0" fill="url(#gk1)" transform="rotate(21 379.7 488.9)"/><ellipse cx="248.8" cy="488.9" rx="3.9" ry="3.4" fill="url(#gk1)" transform="rotate(-10 248.8 488.9)"/><ellipse cx="239.4" cy="489.0" rx="4.2" ry="3.5" fill="url(#gk0)" transform="rotate(-22 239.4 489.0)"/><ellipse cx="280.9" cy="489.1" rx="2.7" ry="2.3" fill="url(#gk1)" transform="rotate(-10 280.9 489.1)"/><ellipse cx="348.5" cy="489.1" rx="3.3" ry="2.6" fill="url(#gk1)" transform="rotate(4 348.5 489.1)"/><ellipse cx="270.2" cy="489.2" rx="4.4" ry="3.8" fill="url(#gk2)" transform="rotate(-29 270.2 489.2)"/><ellipse cx="288.4" cy="489.4" rx="3.6" ry="2.9" fill="url(#gk0)" transform="rotate(-22 288.4 489.4)"/><ellipse cx="248.4" cy="489.7" rx="4.1" ry="3.5" fill="url(#gk1)" transform="rotate(-14 248.4 489.7)"/><ellipse cx="236.4" cy="489.8" rx="3.6" ry="2.8" fill="url(#gk2)" transform="rotate(3 236.4 489.8)"/><ellipse cx="249.4" cy="489.9" rx="3.6" ry="2.9" fill="url(#gk1)" transform="rotate(-18 249.4 489.9)"/><ellipse cx="325.2" cy="490.0" rx="3.9" ry="3.3" fill="url(#gk1)" transform="rotate(-20 325.2 490.0)"/><ellipse cx="253.8" cy="490.0" rx="3.7" ry="3.2" fill="url(#gk2)" transform="rotate(-20 253.8 490.0)"/><ellipse cx="341.5" cy="490.2" rx="4.3" ry="4.1" fill="url(#gk2)" transform="rotate(-13 341.5 490.2)"/><ellipse cx="358.2" cy="490.2" rx="2.8" ry="2.5" fill="url(#gk2)" transform="rotate(10 358.2 490.2)"/><ellipse cx="375.7" cy="490.4" rx="4.0" ry="3.2" fill="url(#gk2)" transform="rotate(18 375.7 490.4)"/><ellipse cx="287.5" cy="490.6" rx="2.5" ry="2.3" fill="url(#gk1)" transform="rotate(-23 287.5 490.6)"/><ellipse cx="354.8" cy="490.6" rx="4.0" ry="3.3" fill="url(#gk1)" transform="rotate(28 354.8 490.6)"/><ellipse cx="235.0" cy="490.6" rx="4.3" ry="3.7" fill="url(#gk0)" transform="rotate(-3 235.0 490.6)"/><ellipse cx="252.5" cy="490.7" rx="3.6" ry="3.1" fill="url(#gk0)" transform="rotate(19 252.5 490.7)"/><ellipse cx="275.4" cy="490.7" rx="4.3" ry="4.0" fill="url(#gk2)" transform="rotate(4 275.4 490.7)"/><ellipse cx="304.3" cy="490.8" rx="3.9" ry="3.7" fill="url(#gk1)" transform="rotate(8 304.3 490.8)"/><ellipse cx="375.4" cy="490.9" rx="3.4" ry="2.7" fill="url(#gk0)" transform="rotate(22 375.4 490.9)"/><ellipse cx="368.5" cy="491.0" rx="3.5" ry="3.1" fill="url(#gk1)" transform="rotate(-17 368.5 491.0)"/><ellipse cx="303.1" cy="491.1" rx="3.8" ry="3.0" fill="url(#gk0)" transform="rotate(6 303.1 491.1)"/><ellipse cx="383.2" cy="491.1" rx="3.2" ry="2.8" fill="url(#gk0)" transform="rotate(26 383.2 491.1)"/><ellipse cx="381.7" cy="491.3" rx="3.8" ry="3.2" fill="url(#gk1)" transform="rotate(-17 381.7 491.3)"/><ellipse cx="258.1" cy="491.4" rx="3.8" ry="3.2" fill="url(#gk0)" transform="rotate(-18 258.1 491.4)"/><ellipse cx="328.4" cy="491.4" rx="3.6" ry="3.2" fill="url(#gk1)" transform="rotate(-8 328.4 491.4)"/><ellipse cx="283.5" cy="491.5" rx="3.7" ry="3.1" fill="url(#gk0)" transform="rotate(21 283.5 491.5)"/><ellipse cx="378.4" cy="491.5" rx="3.3" ry="3.0" fill="url(#gk0)" transform="rotate(12 378.4 491.5)"/><ellipse cx="247.3" cy="491.6" rx="3.5" ry="3.1" fill="url(#gk0)" transform="rotate(-5 247.3 491.6)"/><ellipse cx="335.9" cy="491.7" rx="3.7" ry="3.0" fill="url(#gk1)" transform="rotate(23 335.9 491.7)"/><ellipse cx="266.4" cy="491.8" rx="3.1" ry="2.7" fill="url(#gk0)" transform="rotate(-28 266.4 491.8)"/><ellipse cx="341.3" cy="491.8" rx="2.7" ry="2.2" fill="url(#gk0)" transform="rotate(-24 341.3 491.8)"/><ellipse cx="375.5" cy="492.0" rx="4.3" ry="3.6" fill="url(#gk2)" transform="rotate(28 375.5 492.0)"/><ellipse cx="376.1" cy="492.0" rx="4.2" ry="3.9" fill="url(#gk0)" transform="rotate(18 376.1 492.0)"/><ellipse cx="285.6" cy="492.0" rx="4.0" ry="3.4" fill="url(#gk1)" transform="rotate(0 285.6 492.0)"/><ellipse cx="233.0" cy="492.1" rx="3.5" ry="3.1" fill="url(#gk2)" transform="rotate(21 233.0 492.1)"/><ellipse cx="354.3" cy="492.3" rx="3.7" ry="3.1" fill="url(#gk0)" transform="rotate(-30 354.3 492.3)"/><ellipse cx="356.3" cy="492.7" rx="2.5" ry="2.2" fill="url(#gk0)" transform="rotate(7 356.3 492.7)"/><ellipse cx="275.3" cy="492.8" rx="4.0" ry="3.2" fill="url(#gk2)" transform="rotate(-6 275.3 492.8)"/><ellipse cx="356.1" cy="492.9" rx="3.1" ry="2.6" fill="url(#gk0)" transform="rotate(-29 356.1 492.9)"/><ellipse cx="299.4" cy="493.1" rx="4.4" ry="3.7" fill="url(#gk2)" transform="rotate(-6 299.4 493.1)"/><ellipse cx="229.5" cy="493.2" rx="3.6" ry="3.1" fill="url(#gk2)" transform="rotate(15 229.5 493.2)"/><ellipse cx="317.9" cy="493.3" rx="3.9" ry="3.3" fill="url(#gk2)" transform="rotate(20 317.9 493.3)"/><ellipse cx="380.2" cy="493.3" rx="4.3" ry="4.0" fill="url(#gk2)" transform="rotate(14 380.2 493.3)"/><ellipse cx="272.1" cy="493.4" rx="4.0" ry="3.5" fill="url(#gk2)" transform="rotate(4 272.1 493.4)"/><ellipse cx="252.2" cy="493.9" rx="3.7" ry="3.4" fill="url(#gk0)" transform="rotate(-7 252.2 493.9)"/><ellipse cx="269.1" cy="494.0" rx="3.3" ry="2.6" fill="url(#gk2)" transform="rotate(19 269.1 494.0)"/><ellipse cx="321.6" cy="494.1" rx="3.4" ry="2.8" fill="url(#gk2)" transform="rotate(-12 321.6 494.1)"/><ellipse cx="256.1" cy="494.4" rx="4.1" ry="3.2" fill="url(#gk0)" transform="rotate(19 256.1 494.4)"/><ellipse cx="362.4" cy="494.7" rx="3.8" ry="3.3" fill="url(#gk1)" transform="rotate(25 362.4 494.7)"/><ellipse cx="293.7" cy="494.8" rx="3.0" ry="2.6" fill="url(#gk2)" transform="rotate(29 293.7 494.8)"/><ellipse cx="271.4" cy="494.9" rx="2.7" ry="2.2" fill="url(#gk0)" transform="rotate(15 271.4 494.9)"/><ellipse cx="234.9" cy="494.9" rx="3.8" ry="3.0" fill="url(#gk0)" transform="rotate(18 234.9 494.9)"/><rect x="226" y="493.6" width="162.8" height="57.1" fill="#e98822"/><rect x="226" y="493.6" width="162.8" height="3.2" fill="#f59a1c"/><rect x="226" y="545" width="162.8" height="5.7" fill="#f8a722"/><path d="M227.2 496.8 V545 M387.6 496.8 V545 M226 496.8 H388.8 M226 545 H388.8 M266.2 496.8 V545 M308.9 496.8 V545 M350.7 496.8 V545 M243.3 496.8 L227.2 517 M370.4 496.8 L387.6 517 M289.2 496.8 L308.9 515.5 L327.3 496.8 " fill="none" stroke="#fcb940" stroke-width="1.35"/><rect x="233.0" y="551" width="59.0" height="5.5" fill="#4b515a"/><path d="M245.5 556 H280.5 V566 H245.5Z" fill="#4b515a"/><path d="M235.0 556 L239.5 560 H286.5 L290.0 556Z" fill="#8a9099"/><ellipse cx="245.5" cy="564" rx="13.3" ry="10.5" fill="#fff" stroke="#474c53" stroke-width="1.3"/><ellipse cx="245.5" cy="564" rx="11.4" ry="8.5" fill="#303338"/><ellipse cx="280.5" cy="564" rx="13.3" ry="10.5" fill="#fff" stroke="#474c53" stroke-width="1.3"/><ellipse cx="280.5" cy="564" rx="11.4" ry="8.5" fill="#303338"/><rect x="322.3" y="551" width="59.69999999999999" height="5.5" fill="#4b515a"/><path d="M333.8 556 H369.5 V566 H333.8Z" fill="#4b515a"/><path d="M324.3 556 L327.8 560 H375.5 L380.0 556Z" fill="#8a9099"/><ellipse cx="333.8" cy="564" rx="13.3" ry="10.5" fill="#fff" stroke="#474c53" stroke-width="1.3"/><ellipse cx="333.8" cy="564" rx="11.4" ry="8.5" fill="#303338"/><ellipse cx="369.5" cy="564" rx="13.3" ry="10.5" fill="#fff" stroke="#474c53" stroke-width="1.3"/><ellipse cx="369.5" cy="564" rx="11.4" ry="8.5" fill="#303338"/>
<path d="M410 495 L410.0 495.5 L413.0 488.0 L422.5 481.5 L438.0 478.0 L456.0 475.5 L474.0 473.0 L508.0 472.5 L528.0 473.5 L546.0 479.5 L557.5 487.5 L560.0 494.0 L560.5 496.0 L560.5 495Z" fill="#9a9fa6"/><ellipse cx="516.1" cy="473.0" rx="3.9" ry="3.7" fill="url(#gs0)" transform="rotate(15 516.1 473.0)"/><ellipse cx="510.4" cy="473.2" rx="3.7" ry="3.2" fill="url(#gs1)" transform="rotate(-27 510.4 473.2)"/><ellipse cx="496.6" cy="473.4" rx="4.6" ry="4.2" fill="url(#gs1)" transform="rotate(-5 496.6 473.4)"/><ellipse cx="476.2" cy="473.4" rx="4.0" ry="3.5" fill="url(#gs1)" transform="rotate(16 476.2 473.4)"/><ellipse cx="490.0" cy="473.6" rx="3.6" ry="3.1" fill="url(#gs0)" transform="rotate(28 490.0 473.6)"/><ellipse cx="520.6" cy="473.9" rx="4.7" ry="4.4" fill="url(#gs0)" transform="rotate(-25 520.6 473.9)"/><ellipse cx="502.6" cy="474.2" rx="5.6" ry="4.6" fill="url(#gs1)" transform="rotate(-15 502.6 474.2)"/><ellipse cx="489.5" cy="474.2" rx="5.5" ry="5.2" fill="url(#gs1)" transform="rotate(-19 489.5 474.2)"/><ellipse cx="491.2" cy="474.4" rx="4.2" ry="3.3" fill="url(#gs2)" transform="rotate(12 491.2 474.4)"/><ellipse cx="481.2" cy="474.4" rx="5.3" ry="4.5" fill="url(#gs2)" transform="rotate(-16 481.2 474.4)"/><ellipse cx="500.4" cy="474.4" rx="3.4" ry="2.7" fill="url(#gs0)" transform="rotate(15 500.4 474.4)"/><ellipse cx="465.1" cy="474.4" rx="3.6" ry="3.2" fill="url(#gs2)" transform="rotate(-18 465.1 474.4)"/><ellipse cx="484.5" cy="474.5" rx="3.6" ry="3.4" fill="url(#gs2)" transform="rotate(-12 484.5 474.5)"/><ellipse cx="525.9" cy="475.0" rx="4.6" ry="3.7" fill="url(#gs2)" transform="rotate(-11 525.9 475.0)"/><ellipse cx="470.4" cy="475.0" rx="5.1" ry="4.0" fill="url(#gs1)" transform="rotate(-5 470.4 475.0)"/><ellipse cx="481.0" cy="475.1" rx="4.7" ry="4.0" fill="url(#gs0)" transform="rotate(14 481.0 475.1)"/><ellipse cx="494.1" cy="475.3" rx="3.7" ry="3.1" fill="url(#gs0)" transform="rotate(23 494.1 475.3)"/><ellipse cx="531.9" cy="475.9" rx="4.4" ry="4.1" fill="url(#gs0)" transform="rotate(15 531.9 475.9)"/><ellipse cx="493.2" cy="476.1" rx="5.1" ry="4.5" fill="url(#gs0)" transform="rotate(20 493.2 476.1)"/><ellipse cx="490.5" cy="476.6" rx="5.6" ry="5.2" fill="url(#gs2)" transform="rotate(-6 490.5 476.6)"/><ellipse cx="457.4" cy="476.9" rx="5.3" ry="4.2" fill="url(#gs2)" transform="rotate(-6 457.4 476.9)"/><ellipse cx="446.6" cy="477.1" rx="3.8" ry="3.6" fill="url(#gs0)" transform="rotate(-5 446.6 477.1)"/><ellipse cx="517.3" cy="477.1" rx="5.1" ry="4.3" fill="url(#gs0)" transform="rotate(0 517.3 477.1)"/><ellipse cx="524.9" cy="477.3" rx="5.0" ry="4.1" fill="url(#gs2)" transform="rotate(24 524.9 477.3)"/><ellipse cx="536.9" cy="477.5" rx="4.8" ry="4.3" fill="url(#gs2)" transform="rotate(-24 536.9 477.5)"/><ellipse cx="493.7" cy="477.7" rx="4.3" ry="4.1" fill="url(#gs2)" transform="rotate(3 493.7 477.7)"/><ellipse cx="450.9" cy="477.8" rx="4.6" ry="3.8" fill="url(#gs1)" transform="rotate(9 450.9 477.8)"/><ellipse cx="525.1" cy="478.8" rx="3.9" ry="3.4" fill="url(#gs1)" transform="rotate(-18 525.1 478.8)"/><ellipse cx="504.4" cy="479.0" rx="4.0" ry="3.1" fill="url(#gs2)" transform="rotate(3 504.4 479.0)"/><ellipse cx="528.0" cy="479.3" rx="3.5" ry="2.9" fill="url(#gs1)" transform="rotate(24 528.0 479.3)"/><ellipse cx="439.1" cy="479.4" rx="5.1" ry="4.1" fill="url(#gs0)" transform="rotate(-30 439.1 479.4)"/><ellipse cx="468.6" cy="479.4" rx="5.5" ry="4.7" fill="url(#gs0)" transform="rotate(-23 468.6 479.4)"/><ellipse cx="512.4" cy="479.7" rx="4.3" ry="3.5" fill="url(#gs1)" transform="rotate(-16 512.4 479.7)"/><ellipse cx="459.7" cy="479.7" rx="4.3" ry="3.5" fill="url(#gs0)" transform="rotate(10 459.7 479.7)"/><ellipse cx="470.9" cy="480.0" rx="3.9" ry="3.7" fill="url(#gs1)" transform="rotate(-7 470.9 480.0)"/><ellipse cx="432.8" cy="480.1" rx="4.9" ry="4.1" fill="url(#gs2)" transform="rotate(5 432.8 480.1)"/><ellipse cx="514.5" cy="480.1" rx="5.7" ry="5.0" fill="url(#gs0)" transform="rotate(-29 514.5 480.1)"/><ellipse cx="543.7" cy="480.3" rx="5.7" ry="5.2" fill="url(#gs0)" transform="rotate(-17 543.7 480.3)"/><ellipse cx="505.6" cy="480.5" rx="4.7" ry="3.7" fill="url(#gs0)" transform="rotate(-29 505.6 480.5)"/><ellipse cx="467.2" cy="480.7" rx="5.5" ry="5.1" fill="url(#gs1)" transform="rotate(15 467.2 480.7)"/><ellipse cx="501.1" cy="481.1" rx="3.5" ry="2.9" fill="url(#gs1)" transform="rotate(5 501.1 481.1)"/><ellipse cx="540.6" cy="481.4" rx="4.6" ry="4.3" fill="url(#gs2)" transform="rotate(-24 540.6 481.4)"/><ellipse cx="535.4" cy="481.6" rx="4.9" ry="4.1" fill="url(#gs2)" transform="rotate(-3 535.4 481.6)"/><ellipse cx="545.2" cy="482.0" rx="3.5" ry="2.8" fill="url(#gs0)" transform="rotate(6 545.2 482.0)"/><ellipse cx="480.6" cy="482.1" rx="4.7" ry="4.0" fill="url(#gs0)" transform="rotate(24 480.6 482.1)"/><ellipse cx="476.7" cy="482.3" rx="3.8" ry="3.2" fill="url(#gs1)" transform="rotate(12 476.7 482.3)"/><ellipse cx="425.2" cy="482.4" rx="5.6" ry="5.2" fill="url(#gs0)" transform="rotate(-8 425.2 482.4)"/><ellipse cx="542.6" cy="482.5" rx="3.9" ry="3.4" fill="url(#gs2)" transform="rotate(27 542.6 482.5)"/><ellipse cx="497.2" cy="482.5" rx="4.5" ry="3.5" fill="url(#gs1)" transform="rotate(4 497.2 482.5)"/><ellipse cx="539.9" cy="482.9" rx="5.2" ry="4.3" fill="url(#gs1)" transform="rotate(-12 539.9 482.9)"/><ellipse cx="501.4" cy="482.9" rx="5.0" ry="4.3" fill="url(#gs1)" transform="rotate(4 501.4 482.9)"/><ellipse cx="546.4" cy="483.0" rx="3.5" ry="3.1" fill="url(#gs1)" transform="rotate(-24 546.4 483.0)"/><ellipse cx="487.8" cy="483.0" rx="3.9" ry="3.6" fill="url(#gs0)" transform="rotate(22 487.8 483.0)"/><ellipse cx="548.5" cy="483.1" rx="3.5" ry="3.1" fill="url(#gs2)" transform="rotate(-16 548.5 483.1)"/><ellipse cx="545.1" cy="483.2" rx="5.7" ry="4.7" fill="url(#gs1)" transform="rotate(-2 545.1 483.2)"/><ellipse cx="467.1" cy="483.3" rx="5.5" ry="4.3" fill="url(#gs1)" transform="rotate(21 467.1 483.3)"/><ellipse cx="527.9" cy="483.5" rx="4.2" ry="3.6" fill="url(#gs1)" transform="rotate(16 527.9 483.5)"/><ellipse cx="426.7" cy="483.8" rx="4.9" ry="3.9" fill="url(#gs0)" transform="rotate(-23 426.7 483.8)"/><ellipse cx="444.4" cy="483.9" rx="4.5" ry="4.0" fill="url(#gs2)" transform="rotate(-3 444.4 483.9)"/><ellipse cx="439.8" cy="484.2" rx="3.6" ry="2.8" fill="url(#gs1)" transform="rotate(-3 439.8 484.2)"/><ellipse cx="551.5" cy="484.4" rx="4.9" ry="4.1" fill="url(#gs0)" transform="rotate(30 551.5 484.4)"/><ellipse cx="429.1" cy="484.4" rx="4.2" ry="4.0" fill="url(#gs0)" transform="rotate(0 429.1 484.4)"/><ellipse cx="513.7" cy="484.4" rx="4.5" ry="4.0" fill="url(#gs0)" transform="rotate(-15 513.7 484.4)"/><ellipse cx="543.4" cy="484.7" rx="5.2" ry="4.7" fill="url(#gs1)" transform="rotate(3 543.4 484.7)"/><ellipse cx="449.4" cy="485.6" rx="5.2" ry="4.6" fill="url(#gs0)" transform="rotate(-30 449.4 485.6)"/><ellipse cx="426.0" cy="485.7" rx="5.3" ry="4.5" fill="url(#gs0)" transform="rotate(-24 426.0 485.7)"/><ellipse cx="433.6" cy="485.7" rx="4.9" ry="4.2" fill="url(#gs1)" transform="rotate(14 433.6 485.7)"/><ellipse cx="446.9" cy="485.7" rx="5.7" ry="5.4" fill="url(#gs0)" transform="rotate(-26 446.9 485.7)"/><ellipse cx="428.1" cy="486.0" rx="5.1" ry="4.5" fill="url(#gs2)" transform="rotate(-11 428.1 486.0)"/><ellipse cx="482.7" cy="486.0" rx="5.7" ry="5.3" fill="url(#gs0)" transform="rotate(-4 482.7 486.0)"/><ellipse cx="417.8" cy="486.1" rx="5.5" ry="4.5" fill="url(#gs0)" transform="rotate(0 417.8 486.1)"/><ellipse cx="551.7" cy="486.2" rx="4.3" ry="3.8" fill="url(#gs1)" transform="rotate(0 551.7 486.2)"/><ellipse cx="460.3" cy="486.2" rx="3.8" ry="3.4" fill="url(#gs2)" transform="rotate(-10 460.3 486.2)"/><ellipse cx="479.8" cy="486.3" rx="4.9" ry="4.2" fill="url(#gs2)" transform="rotate(25 479.8 486.3)"/><ellipse cx="504.7" cy="486.3" rx="3.5" ry="2.8" fill="url(#gs1)" transform="rotate(4 504.7 486.3)"/><ellipse cx="422.4" cy="486.4" rx="4.1" ry="3.7" fill="url(#gs2)" transform="rotate(22 422.4 486.4)"/><ellipse cx="460.1" cy="486.4" rx="5.4" ry="4.3" fill="url(#gs0)" transform="rotate(18 460.1 486.4)"/><ellipse cx="501.3" cy="486.5" rx="5.5" ry="4.6" fill="url(#gs2)" transform="rotate(20 501.3 486.5)"/><ellipse cx="463.5" cy="486.5" rx="4.8" ry="3.9" fill="url(#gs1)" transform="rotate(30 463.5 486.5)"/><ellipse cx="489.4" cy="487.1" rx="3.8" ry="3.4" fill="url(#gs2)" transform="rotate(11 489.4 487.1)"/><ellipse cx="554.5" cy="487.3" rx="4.8" ry="4.3" fill="url(#gs1)" transform="rotate(4 554.5 487.3)"/><ellipse cx="459.3" cy="487.5" rx="4.0" ry="3.8" fill="url(#gs1)" transform="rotate(6 459.3 487.5)"/><ellipse cx="540.7" cy="487.6" rx="4.7" ry="3.7" fill="url(#gs2)" transform="rotate(-12 540.7 487.6)"/><ellipse cx="538.8" cy="488.0" rx="3.5" ry="3.1" fill="url(#gs1)" transform="rotate(-25 538.8 488.0)"/><ellipse cx="433.2" cy="488.1" rx="3.9" ry="3.5" fill="url(#gs2)" transform="rotate(18 433.2 488.1)"/><ellipse cx="531.3" cy="488.2" rx="5.2" ry="4.2" fill="url(#gs2)" transform="rotate(-30 531.3 488.2)"/><ellipse cx="415.3" cy="488.6" rx="5.0" ry="4.4" fill="url(#gs1)" transform="rotate(-2 415.3 488.6)"/><ellipse cx="443.7" cy="488.6" rx="4.3" ry="4.1" fill="url(#gs2)" transform="rotate(-7 443.7 488.6)"/><ellipse cx="482.2" cy="488.7" rx="5.5" ry="5.0" fill="url(#gs1)" transform="rotate(-20 482.2 488.7)"/><ellipse cx="529.1" cy="489.3" rx="4.6" ry="4.3" fill="url(#gs2)" transform="rotate(14 529.1 489.3)"/><ellipse cx="440.9" cy="489.8" rx="5.1" ry="4.3" fill="url(#gs2)" transform="rotate(0 440.9 489.8)"/><ellipse cx="423.8" cy="489.9" rx="3.9" ry="3.6" fill="url(#gs0)" transform="rotate(-10 423.8 489.9)"/><ellipse cx="557.5" cy="490.1" rx="5.8" ry="4.8" fill="url(#gs2)" transform="rotate(-24 557.5 490.1)"/><ellipse cx="477.7" cy="490.2" rx="4.9" ry="4.0" fill="url(#gs2)" transform="rotate(20 477.7 490.2)"/><ellipse cx="412.5" cy="490.2" rx="4.5" ry="4.0" fill="url(#gs0)" transform="rotate(21 412.5 490.2)"/><ellipse cx="434.5" cy="490.3" rx="4.5" ry="3.6" fill="url(#gs1)" transform="rotate(-4 434.5 490.3)"/><ellipse cx="478.3" cy="490.3" rx="5.1" ry="4.4" fill="url(#gs0)" transform="rotate(22 478.3 490.3)"/><ellipse cx="510.1" cy="490.4" rx="4.8" ry="4.1" fill="url(#gs1)" transform="rotate(-28 510.1 490.4)"/><ellipse cx="525.7" cy="490.4" rx="3.5" ry="2.8" fill="url(#gs0)" transform="rotate(13 525.7 490.4)"/><ellipse cx="524.5" cy="490.6" rx="4.2" ry="3.7" fill="url(#gs0)" transform="rotate(-25 524.5 490.6)"/><ellipse cx="415.9" cy="490.6" rx="3.8" ry="3.5" fill="url(#gs0)" transform="rotate(25 415.9 490.6)"/><ellipse cx="447.1" cy="490.7" rx="4.2" ry="3.3" fill="url(#gs1)" transform="rotate(26 447.1 490.7)"/><ellipse cx="555.8" cy="490.9" rx="5.0" ry="4.5" fill="url(#gs1)" transform="rotate(-2 555.8 490.9)"/><ellipse cx="528.0" cy="491.0" rx="5.7" ry="4.6" fill="url(#gs2)" transform="rotate(23 528.0 491.0)"/><ellipse cx="484.1" cy="491.6" rx="4.2" ry="3.5" fill="url(#gs0)" transform="rotate(-24 484.1 491.6)"/><ellipse cx="509.1" cy="491.6" rx="3.8" ry="3.5" fill="url(#gs0)" transform="rotate(22 509.1 491.6)"/><ellipse cx="511.7" cy="491.8" rx="4.4" ry="3.6" fill="url(#gs0)" transform="rotate(-7 511.7 491.8)"/><ellipse cx="437.3" cy="492.1" rx="3.6" ry="3.0" fill="url(#gs1)" transform="rotate(15 437.3 492.1)"/><ellipse cx="492.7" cy="492.2" rx="4.5" ry="4.3" fill="url(#gs2)" transform="rotate(17 492.7 492.2)"/><ellipse cx="553.1" cy="492.6" rx="4.3" ry="3.7" fill="url(#gs0)" transform="rotate(4 553.1 492.6)"/><ellipse cx="415.2" cy="492.6" rx="5.7" ry="4.8" fill="url(#gs0)" transform="rotate(15 415.2 492.6)"/><ellipse cx="516.0" cy="492.6" rx="5.3" ry="4.3" fill="url(#gs2)" transform="rotate(-15 516.0 492.6)"/><ellipse cx="426.4" cy="493.2" rx="4.2" ry="3.8" fill="url(#gs1)" transform="rotate(-14 426.4 493.2)"/><ellipse cx="542.5" cy="493.3" rx="5.6" ry="5.3" fill="url(#gs1)" transform="rotate(16 542.5 493.3)"/><ellipse cx="553.1" cy="493.7" rx="5.8" ry="4.7" fill="url(#gs2)" transform="rotate(-29 553.1 493.7)"/><ellipse cx="429.8" cy="494.1" rx="3.7" ry="3.3" fill="url(#gs2)" transform="rotate(-22 429.8 494.1)"/><ellipse cx="450.9" cy="494.5" rx="3.5" ry="3.0" fill="url(#gs1)" transform="rotate(8 450.9 494.5)"/><ellipse cx="438.6" cy="494.8" rx="5.7" ry="5.2" fill="url(#gs0)" transform="rotate(-6 438.6 494.8)"/><ellipse cx="548.1" cy="494.9" rx="3.5" ry="3.0" fill="url(#gs1)" transform="rotate(22 548.1 494.9)"/><rect x="408" y="493.6" width="156.5" height="57.1" fill="#e98822"/><rect x="408" y="493.6" width="156.5" height="3.2" fill="#f59a1c"/><rect x="408" y="545" width="156.5" height="5.7" fill="#f8a722"/><path d="M409.2 496.8 V545 M563.3 496.8 V545 M408 496.8 H564.5 M408 545 H564.5 M446.7 496.8 V545 M487.7 496.8 V545 M527.9 496.8 V545 M424.6 496.8 L409.2 517 M546.8 496.8 L563.3 517 M468.7 496.8 L487.7 515.5 L505.3 496.8 " fill="none" stroke="#fcb940" stroke-width="1.35"/><rect x="413.0" y="551" width="59.0" height="5.5" fill="#4b515a"/><path d="M425.5 556 H460.5 V566 H425.5Z" fill="#4b515a"/><path d="M415.0 556 L419.5 560 H466.5 L470.0 556Z" fill="#8a9099"/><ellipse cx="425.5" cy="564" rx="13.3" ry="10.5" fill="#fff" stroke="#474c53" stroke-width="1.3"/><ellipse cx="425.5" cy="564" rx="11.4" ry="8.5" fill="#303338"/><ellipse cx="460.5" cy="564" rx="13.3" ry="10.5" fill="#fff" stroke="#474c53" stroke-width="1.3"/><ellipse cx="460.5" cy="564" rx="11.4" ry="8.5" fill="#303338"/><rect x="499.8" y="551" width="58.99999999999994" height="5.5" fill="#4b515a"/><path d="M511.3 556 H546.3 V566 H511.3Z" fill="#4b515a"/><path d="M501.8 556 L505.3 560 H552.3 L556.8 556Z" fill="#8a9099"/><ellipse cx="511.3" cy="564" rx="13.3" ry="10.5" fill="#fff" stroke="#474c53" stroke-width="1.3"/><ellipse cx="511.3" cy="564" rx="11.4" ry="8.5" fill="#303338"/><ellipse cx="546.3" cy="564" rx="13.3" ry="10.5" fill="#fff" stroke="#474c53" stroke-width="1.3"/><ellipse cx="546.3" cy="564" rx="11.4" ry="8.5" fill="#303338"/>
<g fill="#a9acb1" stroke="#686b70" stroke-width="1.7"><rect x="645.3" y="479" width="16.5" height="8.6"/><rect x="671" y="479" width="16" height="8.6"/><path d="M662 485.5 H671"/></g>
<defs><clipPath id="tkc"><path d="M596 487.500 H737 A19 19 0 0 1 756 506.500 V527 C756 542 750 550.600 741 550.600 H592 C583 550.600 577 542 577 527 V506.500 A19 19 0 0 1 596 487.500Z"/></clipPath><filter id="tkb" x="-5%" y="-20%" width="110%" height="140%"><feGaussianBlur stdDeviation="0.9"/></filter></defs>
<path d="M596 487.500 H737 A19 19 0 0 1 756 506.500 V527 C756 542 750 550.600 741 550.600 H592 C583 550.600 577 542 577 527 V506.500 A19 19 0 0 1 596 487.500Z" fill="#fb960b"/>
<g clip-path="url(#tkc)"><g filter="url(#tkb)"><rect x="574" y="480" width="185" height="58" rx="22" ry="16" fill="#fca70c"/><rect x="574" y="480" width="185" height="37.500" rx="20" ry="10" fill="#fdb40d"/></g></g>
<rect x="590" y="551" width="57.5" height="5.5" fill="#4b515a"/><path d="M603 556.5 H638.8 V566.5 H603Z" fill="#4b515a"/><path d="M592 556 L597 560.5 H644.8 L645.5 556Z" fill="#8a9099"/><ellipse cx="603" cy="564.5" rx="13.3" ry="10.5" fill="#fff" stroke="#474c53" stroke-width="1.3"/><ellipse cx="603" cy="564.5" rx="11.4" ry="8.5" fill="#303338"/><ellipse cx="638.8" cy="564.5" rx="13.3" ry="10.5" fill="#fff" stroke="#474c53" stroke-width="1.3"/><ellipse cx="638.8" cy="564.5" rx="11.4" ry="8.5" fill="#303338"/>
<rect x="681" y="551" width="63" height="5.5" fill="#4b515a"/><path d="M692 556.5 H728.8 V566.5 H692Z" fill="#4b515a"/><path d="M683 556 L686 560.5 H734.8 L742 556Z" fill="#8a9099"/><ellipse cx="692" cy="564.5" rx="13.3" ry="10.5" fill="#fff" stroke="#474c53" stroke-width="1.3"/><ellipse cx="692" cy="564.5" rx="11.4" ry="8.5" fill="#303338"/><ellipse cx="728.8" cy="564.5" rx="13.3" ry="10.5" fill="#fff" stroke="#474c53" stroke-width="1.3"/><ellipse cx="728.8" cy="564.5" rx="11.4" ry="8.5" fill="#303338"/>
</svg>
<svg class="arrows" style="left:0;top:0" width="800" height="800" viewBox="0 0 800 800">
<path d="M192.7 673.7 L200 666.75 H196.49599999999998 V659.8 H188.904 V666.75 H185.4Z" fill="#f01414"/>
<path d="M191.65 699 L199 706.6 H195.472 V714.2 H187.828 V706.6 H184.3Z" fill="#25d052"/>
<path d="M375.4 674.4 L383.6 667.2 H379.664 V660 H371.13599999999997 V667.2 H367.2Z" fill="#f01414"/>
<path d="M375.5 702.5 L383 710.15 H379.4 V717.8 H371.6 V710.15 H368Z" fill="#25d052"/>
<path d="M551.5 661.6 L558.5 669.1 H555.14 V676.6 H547.86 V669.1 H544.5Z" fill="#25d052"/>
<path d="M551.5 704.3 L558.5 711.8499999999999 H555.14 V719.4 H547.86 V711.8499999999999 H544.5Z" fill="#25d052"/>
<path d="M729.75 676 L736.5 668.75 H733.26 V661.5 H726.24 V668.75 H723Z" fill="#f01414"/>
<path d="M732.2 720 L739.4 712.5 H735.9440000000001 V705 H728.456 V712.5 H725Z" fill="#f01414"/>
</svg>
<section>
<div class="t" style="top:598.04px;font-size:23px;color:#111;font-weight:bold;left:67.50px;width:120px;text-align:center;">65.0</div>
<div class="t" style="top:625.66px;font-size:17.6px;color:#151515;left:67.50px;width:120px;text-align:center;">сая.тн</div>
<div class="t" style="top:656.45px;font-size:12px;color:#111;font-weight:bold;left:50.00px;width:80px;text-align:center;">2024 оны</div>
<div class="t" style="top:669.95px;font-size:12px;color:#111;font-weight:bold;left:50.00px;width:80px;text-align:center;">мөн үеэс</div>
<div class="t" style="top:697.95px;font-size:12px;color:#111;font-weight:bold;left:50.00px;width:80px;text-align:center;">2023 оны</div>
<div class="t" style="top:711.55px;font-size:12px;color:#111;font-weight:bold;left:50.00px;width:80px;text-align:center;">мөн үеэс</div>
<div class="t" style="top:659.25px;font-size:20px;color:#e51c24;font-weight:bold;left:122.90px;">1.4%</div>
<div class="t" style="top:699.25px;font-size:20px;color:#32cd5a;font-weight:bold;left:121.80px;">24.9%</div>
</section>
<section>
<div class="t" style="top:598.04px;font-size:23px;color:#111;font-weight:bold;left:246.00px;width:120px;text-align:center;">1.86</div>
<div class="t" style="top:625.66px;font-size:17.6px;color:#151515;left:246.00px;width:120px;text-align:center;">сая.тн</div>
<div class="t" style="top:656.45px;font-size:12px;color:#111;font-weight:bold;left:224.50px;width:80px;text-align:center;">2024 оны</div>
<div class="t" style="top:669.95px;font-size:12px;color:#111;font-weight:bold;left:224.50px;width:80px;text-align:center;">мөн үеэс</div>
<div class="t" style="top:697.95px;font-size:12px;color:#111;font-weight:bold;left:224.50px;width:80px;text-align:center;">2023 оны</div>
<div class="t" style="top:711.55px;font-size:12px;color:#111;font-weight:bold;left:224.50px;width:80px;text-align:center;">мөн үеэс</div>
<div class="t" style="top:657.85px;font-size:20px;color:#e51c24;font-weight:bold;left:300.40px;">29.1%</div>
<div class="t" style="top:698.85px;font-size:20px;color:#32cd5a;font-weight:bold;left:300.40px;">45.9%</div>
</section>
<section>
<div class="t" style="top:598.04px;font-size:23px;color:#111;font-weight:bold;left:423.80px;width:120px;text-align:center;">7.22</div>
<div class="t" style="top:625.66px;font-size:17.6px;color:#151515;left:423.80px;width:120px;text-align:center;">сая.тн</div>
<div class="t" style="top:656.45px;font-size:12px;color:#111;font-weight:bold;left:403.50px;width:80px;text-align:center;">2024 оны</div>
<div class="t" style="top:669.95px;font-size:12px;color:#111;font-weight:bold;left:403.50px;width:80px;text-align:center;">мөн үеэс</div>
<div class="t" style="top:697.95px;font-size:12px;color:#111;font-weight:bold;left:403.50px;width:80px;text-align:center;">2023 оны</div>
<div class="t" style="top:711.55px;font-size:12px;color:#111;font-weight:bold;left:403.50px;width:80px;text-align:center;">мөн үеэс</div>
<div class="t" style="top:658.75px;font-size:20px;color:#32cd5a;font-weight:bold;left:476.40px;">18.5%</div>
<div class="t" style="top:701.95px;font-size:20px;color:#32cd5a;font-weight:bold;left:476.40px;">52.2%</div>
</section>
<section>
<div class="t" style="top:598.04px;font-size:23px;color:#111;font-weight:bold;left:601.50px;width:120px;text-align:center;">2.96</div>
<div class="t" style="top:625.66px;font-size:17.6px;color:#151515;left:601.50px;width:120px;text-align:center;">сая.барр</div>
<div class="t" style="top:656.45px;font-size:12px;color:#111;font-weight:bold;left:582.00px;width:80px;text-align:center;">2024 оны</div>
<div class="t" style="top:669.95px;font-size:12px;color:#111;font-weight:bold;left:582.00px;width:80px;text-align:center;">мөн үеэс</div>
<div class="t" style="top:697.95px;font-size:12px;color:#111;font-weight:bold;left:582.00px;width:80px;text-align:center;">2023 оны</div>
<div class="t" style="top:711.55px;font-size:12px;color:#111;font-weight:bold;left:582.00px;width:80px;text-align:center;">мөн үеэс</div>
<div class="t" style="top:658.75px;font-size:20px;color:#e51c24;font-weight:bold;left:655.40px;">13.4%</div>
<div class="t" style="top:703.75px;font-size:20px;color:#e51c24;font-weight:bold;left:655.40px;">25.7%</div>
</section>
<footer class="footer"></footer>
<svg class="ficons" style="left:0;top:0" width="800" height="800" viewBox="0 0 800 800"><g fill="none" stroke="#e8f4fe" stroke-width="2" stroke-linecap="round" stroke-linejoin="round">
<circle cx="97" cy="780.7" r="9"/><ellipse cx="97" cy="780.7" rx="4.3" ry="9"/><path d="M88 780.700 H106"/>
<g stroke-linejoin="miter" stroke-linecap="butt"><rect x="269.2" y="774.7" width="17.8" height="13"/><path d="M269.500 775 L278.100 784.600 L286.700 775"/></g>
<path transform="translate(0 0)" d="M522.500 772 L528.500 777 L525.500 780 L530 783.500 L532.800 781.200 L538 786 C536.500 789.700 531 790.300 526.500 788.500 C520.500 786 518 778 522.500 772Z"/>
<path transform="translate(161.5 0)" d="M522.500 772 L528.500 777 L525.500 780 L530 783.500 L532.800 781.200 L538 786 C536.500 789.700 531 790.300 526.500 788.500 C520.500 786 518 778 522.500 772Z"/>
</g></svg>
<div class="t" style="top:768.93px;font-size:18.35px;color:#eaf2fb;left:115.00px;">www.gov.mn</div>
<div class="t" style="top:769.13px;font-size:18.35px;color:#eaf2fb;left:300.00px;">info@customs.gov.mn</div>
<div class="t" style="top:769.24px;font-size:18.1px;color:#eaf2fb;left:550.00px;">1800-1281</div>
<div class="t" style="top:769.24px;font-size:18.1px;color:#eaf2fb;left:704.70px;">110</div>
</body></html>
